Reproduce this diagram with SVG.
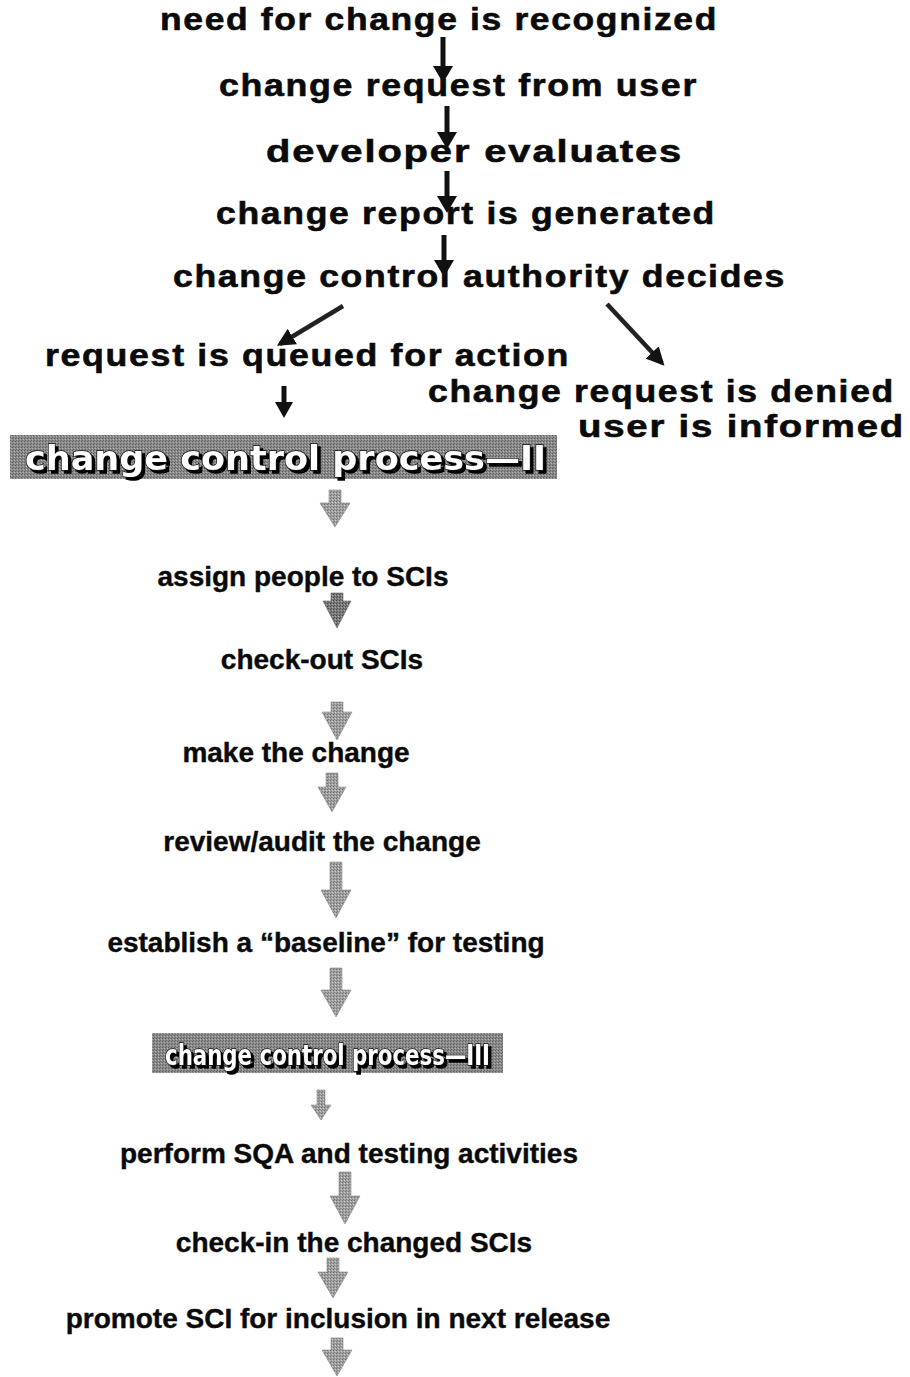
<svg xmlns="http://www.w3.org/2000/svg" width="910" height="1377" viewBox="0 0 910 1377">
<style>
.top{font-family:"Liberation Sans",Arial,sans-serif;font-weight:bold;font-size:32px;letter-spacing:1.5px;fill:#0a0a0a;stroke:#0a0a0a;stroke-width:0.6px}
.step{font-family:"Liberation Sans",Arial,sans-serif;font-weight:bold;font-size:28px;fill:#0a0a0a;stroke:#0a0a0a;stroke-width:0.4px;text-anchor:middle}
.ban{font-family:"DejaVu Sans",sans-serif;font-weight:bold;fill:#ffffff;stroke:#111;stroke-width:1.4px;paint-order:stroke}
.blk{stroke:#111;stroke-width:5;fill:none}
.diag{stroke:#222;stroke-width:4.5;fill:none}
.head{fill:#111}
.garrow{fill:url(#gdither);stroke:#888;stroke-width:0.6}
.garrowD{fill:url(#gdark);stroke:#666;stroke-width:0.6}
</style>
<defs>
<filter id="shadow" x="-5%" y="-20%" width="110%" height="150%">
<feOffset in="SourceAlpha" dx="2.5" dy="2.5" result="off"/>
<feFlood flood-color="#000"/>
<feComposite in2="off" operator="in" result="sh"/>
<feMerge><feMergeNode in="sh"/><feMergeNode in="SourceGraphic"/></feMerge>
</filter>
<pattern id="bdither" width="3" height="3" patternUnits="userSpaceOnUse">
<rect width="3" height="3" fill="#8a8a8a"/>
<rect x="0" y="0" width="1" height="1" fill="#5e5e5e"/>
<rect x="2" y="1" width="1" height="1" fill="#b4b4b4"/>
<rect x="1" y="2" width="1" height="1" fill="#6a6a6a"/>
</pattern>
<pattern id="gdither" width="3" height="3" patternUnits="userSpaceOnUse">
<rect width="3" height="3" fill="#a0a0a0"/>
<rect x="0" y="0" width="1" height="1" fill="#707070"/>
<rect x="2" y="1" width="1" height="1" fill="#cccccc"/>
<rect x="1" y="2" width="1" height="1" fill="#808080"/>
</pattern>
<pattern id="gdark" width="3" height="3" patternUnits="userSpaceOnUse">
<rect width="3" height="3" fill="#7c7c7c"/>
<rect x="0" y="0" width="1" height="1" fill="#444"/>
<rect x="2" y="1" width="1" height="1" fill="#aaa"/>
<rect x="1" y="2" width="1" height="1" fill="#555"/>
</pattern>
<marker id="ah" viewBox="0 0 10 10" refX="8" refY="5" markerWidth="4" markerHeight="4" orient="auto" markerUnits="strokeWidth">
<path d="M0,0 L10,5 L0,10 z" fill="#111"/>
</marker>
</defs>
<rect width="910" height="1377" fill="#ffffff"/>

<g id="n1"><text class="top" x="160" y="30" textLength="558" lengthAdjust="spacingAndGlyphs">need for change is recognized</text></g>
<g id="n2"><text class="top" x="219" y="96" textLength="479" lengthAdjust="spacingAndGlyphs">change request from user</text></g>
<g id="n3"><text class="top" x="266" y="162" textLength="417" lengthAdjust="spacingAndGlyphs">developer evaluates</text></g>
<g id="n4"><text class="top" x="216" y="224" textLength="500" lengthAdjust="spacingAndGlyphs">change report is generated</text></g>
<g id="n5"><text class="top" x="173" y="287" textLength="613" lengthAdjust="spacingAndGlyphs">change control authority decides</text></g>
<g id="n6"><text class="top" x="45" y="366" textLength="525" lengthAdjust="spacingAndGlyphs">request is queued for action</text></g>
<g id="n7"><text class="top" x="428" y="402" textLength="467" lengthAdjust="spacingAndGlyphs">change request is denied</text>
<text class="top" x="578" y="437" textLength="327" lengthAdjust="spacingAndGlyphs">user is informed</text></g>

<g id="banner2">
<rect x="10" y="435" width="547" height="44" fill="url(#bdither)"/>
<text class="ban" x="25" y="470" font-size="34" textLength="521" lengthAdjust="spacingAndGlyphs" filter="url(#shadow)">change control process—II</text>
</g>

<g id="s1"><text class="step" x="303" y="586">assign people to SCIs</text></g>
<g id="s2"><text class="step" x="322" y="669">check-out SCIs</text></g>
<g id="s3"><text class="step" x="296" y="762">make the change</text></g>
<g id="s4"><text class="step" x="322" y="851">review/audit the change</text></g>
<g id="s5"><text class="step" x="326" y="952">establish a “baseline” for testing</text></g>

<g id="banner3">
<rect x="152" y="1033" width="351" height="40" fill="url(#bdither)"/>
<text class="ban" x="165" y="1065" font-size="28" textLength="325" lengthAdjust="spacingAndGlyphs" filter="url(#shadow)">change control process—III</text>
</g>

<g id="s6"><text class="step" x="349" y="1163">perform SQA and testing activities</text></g>
<g id="s7"><text class="step" x="354" y="1252">check-in the changed SCIs</text></g>
<g id="s8"><text class="step" x="338" y="1328">promote SCI for inclusion in next release</text></g>

<g id="connectors">
<line class="blk" x1="443" y1="37" x2="443" y2="68"/><path class="head" d="M433,66 L453,66 L443,83 z"/>
<line class="blk" x1="447" y1="106" x2="447" y2="134"/><path class="head" d="M437,132 L457,132 L447,149 z"/>
<line class="blk" x1="447" y1="171" x2="447" y2="198"/><path class="head" d="M437,196 L457,196 L447,213 z"/>
<line class="blk" x1="444" y1="235" x2="444" y2="262"/><path class="head" d="M434,260 L454,260 L444,277 z"/>
<line class="diag" x1="343" y1="306" x2="280" y2="344" marker-end="url(#ah)"/>
<line class="diag" x1="607" y1="304" x2="662" y2="363" marker-end="url(#ah)"/>
<line class="blk" x1="284" y1="386" x2="284" y2="404"/><path class="head" d="M275,402 L293,402 L284,418 z"/>
<path class="garrow" d="M329,490 L341,490 L341,503 L350,503 L335,527 L320,503 L329,503 z"/>
<path class="garrowD" d="M331,593 L343,593 L343,601 L351,601 L337,628 L323,601 L331,601 z"/>
<path class="garrow" d="M331,702 L343,702 L343,712 L352,712 L337,740 L322,712 L331,712 z"/>
<path class="garrow" d="M326,773 L338,773 L338,787 L346,787 L332,812 L318,787 L326,787 z"/>
<path class="garrow" d="M330,862 L342,862 L342,890 L351,890 L336,918 L321,890 L330,890 z"/>
<path class="garrow" d="M330,968 L342,968 L342,990 L351,990 L336,1017 L321,990 L330,990 z"/>
<path class="garrow" d="M317,1090 L325,1090 L325,1105 L331,1105 L321,1120 L311,1105 L317,1105 z"/>
<path class="garrow" d="M339,1172 L351,1172 L351,1196 L360,1196 L345,1224 L330,1196 L339,1196 z"/>
<path class="garrow" d="M327,1258 L339,1258 L339,1272 L348,1272 L333,1298 L318,1272 L327,1272 z"/>
<path class="garrow" d="M331,1338 L343,1338 L343,1350 L352,1350 L337,1376 L322,1350 L331,1350 z"/>
</g>
</svg>
